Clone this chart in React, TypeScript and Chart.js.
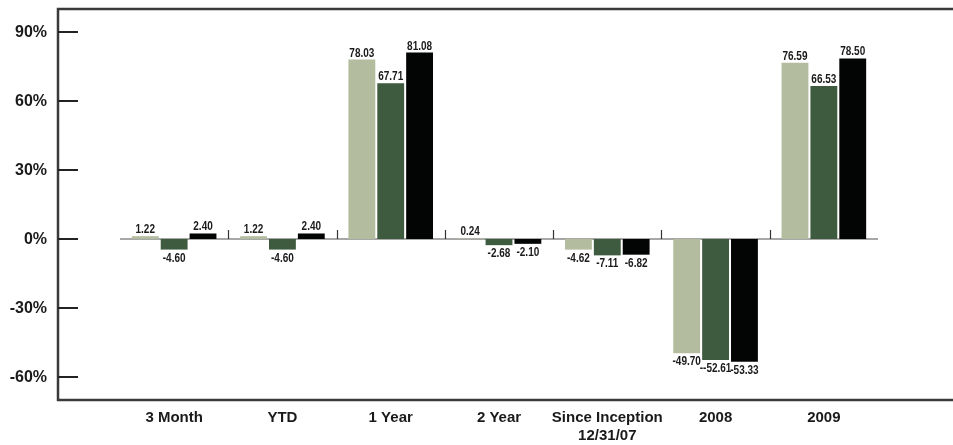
import React, { useEffect, useRef } from "react";
import { Chart, registerables } from "chart.js";

Chart.register(...registerables);

const categories: (string | string[])[] = [
  "3 Month",
  "YTD",
  "1 Year",
  "2 Year",
  ["Since Inception", "12/31/07"],
  "2008",
  "2009",
];
const series1 = [1.22, 1.22, 78.03, 0.24, -4.62, -49.7, 76.59];
const series2 = [-4.6, -4.6, 67.71, -2.68, -7.11, -52.61, 66.53];
const series3 = [2.4, 2.4, 81.08, -2.1, -6.82, -53.33, 78.5];
const seriesColors = ["#b3bc9e", "#3e5a3f", "#030504"];
const yTicks = [-60, -30, 0, 30, 60, 90];
const labelOverrides: Record<string, string> = { "1-5": "--52.61" };

const TEXT = "#1a1a1a";
const LABEL_FONT = 'bold 13px "Liberation Sans", Arial, sans-serif';
const LABEL_SQUEEZE = 0.77;
const AXIS_FONT_Y = 'bold 16px "Liberation Sans", Arial, sans-serif';
const AXIS_FONT_X = 'bold 15px "Liberation Sans", Arial, sans-serif';

const framePlugin = {
  id: "frame",
  beforeDatasetsDraw(chart: any) {
    const { ctx, chartArea, scales } = chart;
    const y = scales.y;
    const x = scales.x;
    const W = chart.width;
    const y0 = y.getPixelForValue(0);
    ctx.save();
    // frame
    ctx.strokeStyle = "#3a3a3a";
    ctx.lineWidth = 2.5;
    ctx.beginPath();
    ctx.moveTo(W + 2, chartArea.top);
    ctx.lineTo(58, chartArea.top);
    ctx.lineTo(58, chartArea.bottom);
    ctx.lineTo(W + 2, chartArea.bottom);
    ctx.stroke();
    // y tick marks + labels
    ctx.strokeStyle = "#222";
    ctx.lineWidth = 2;
    ctx.fillStyle = TEXT;
    ctx.font = AXIS_FONT_Y;
    ctx.textAlign = "right";
    ctx.textBaseline = "middle";
    yTicks.forEach((t) => {
      const py = Math.round(y.getPixelForValue(t));
      ctx.beginPath();
      ctx.moveTo(58, py);
      ctx.lineTo(78, py);
      ctx.stroke();
      ctx.fillText(t + "%", 47, py + 1);
    });
    // baseline
    ctx.strokeStyle = "#8a8a8a";
    ctx.lineWidth = 1.5;
    ctx.beginPath();
    ctx.moveTo(chartArea.left, y0);
    ctx.lineTo(chartArea.right, y0);
    ctx.stroke();
    // category separators
    ctx.strokeStyle = "#333";
    ctx.lineWidth = 1.2;
    for (let i = 0; i < categories.length - 1; i++) {
      const bx = Math.round((x.getPixelForValue(i) + x.getPixelForValue(i + 1)) / 2) + 0.5;
      ctx.beginPath();
      ctx.moveTo(bx, y0 - 9);
      ctx.lineTo(bx, y0);
      ctx.stroke();
    }
    // x labels
    ctx.font = AXIS_FONT_X;
    ctx.textAlign = "center";
    ctx.textBaseline = "middle";
    categories.forEach((c, i) => {
      const lines = Array.isArray(c) ? c : [c];
      const px = x.getPixelForValue(i);
      lines.forEach((ln, j) => {
        ctx.fillText(ln, px, chartArea.bottom + 18 + j * 18);
      });
    });
    ctx.restore();
  },
  afterDatasetsDraw(chart: any) {
    const { ctx } = chart;
    chart.data.datasets.forEach((ds: any, di: number) => {
      const meta = chart.getDatasetMeta(di);
      meta.data.forEach((el: any, i: number) => {
        const v = ds.data[i] as number;
        const txt = labelOverrides[di + "-" + i] ?? v.toFixed(2);
        ctx.save();
        ctx.font = LABEL_FONT;
        ctx.fillStyle = TEXT;
        ctx.textAlign = "center";
        if (v >= 0) {
          ctx.textBaseline = "alphabetic";
          ctx.translate(el.x, el.y - 3);
        } else {
          ctx.textBaseline = "top";
          ctx.translate(el.x, el.y + 2);
        }
        ctx.scale(LABEL_SQUEEZE, 1);
        ctx.fillText(txt, 0, 0);
        ctx.restore();
      });
    });
  },
};

export default function App() {
  const ref = useRef<HTMLCanvasElement | null>(null);
  useEffect(() => {
    if (!ref.current) return;
    const chart = new Chart(ref.current, {
      type: "bar",
      data: {
        labels: categories as any,
        datasets: [series1, series2, series3].map((d, k) => ({
          label: "S" + (k + 1),
          data: d,
          backgroundColor: seriesColors[k],
          borderWidth: 0,
          categoryPercentage: 0.8,
          barPercentage: 0.93,
        })),
      },
      options: {
        animation: false,
        responsive: false,
        maintainAspectRatio: false,
        devicePixelRatio: 1,
        layout: { padding: { left: 120, right: 75, top: 9, bottom: 45 } },
        plugins: { legend: { display: false }, tooltip: { enabled: false } },
        scales: {
          x: { display: false },
          y: { display: false, min: -70, max: 100 },
        },
      },
      plugins: [framePlugin],
    });
    return () => chart.destroy();
  }, []);
  return (
    <div style={{ position: "fixed", left: 0, top: 0, width: 953, height: 445, background: "#fff" }}>
      <canvas ref={ref} width={953} height={445} style={{ width: 953, height: 445 }} />
    </div>
  );
}
